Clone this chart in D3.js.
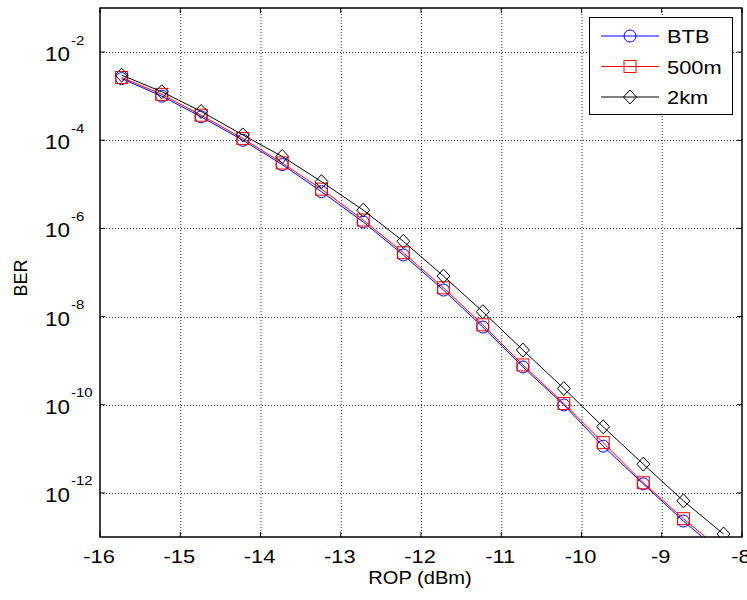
<!DOCTYPE html>
<html>
<head>
<meta charset="utf-8">
<script src="https://cdn.jsdelivr.net/npm/d3@7/dist/d3.min.js"></script>
<style>
  body { margin: 0; background: #fff; }
  text { font-family: "Liberation Sans", Arial, sans-serif; fill: #000; }
</style>
</head>
<body>
<div id="chart"></div>
<script>
// values
const rop = [-15.73, -15.23, -14.74, -14.22, -13.73, -13.24, -12.72, -12.22,
             -11.72, -11.23, -10.73, -10.22, -9.73, -9.23, -8.73, -8.23];
const berBTB = [2.5e-3, 1.0e-3, 3.4e-4, 1.0e-4, 2.8e-5, 6.8e-6, 1.4e-6, 2.5e-7,
                4.0e-8, 5.8e-9, 7.2e-10, 9.9e-11, 1.15e-11, 1.6e-12, 2.3e-13, 3.9e-14];
const ber500m = [2.65e-3, 1.1e-3, 3.7e-4, 1.1e-4, 3.05e-5, 7.8e-6, 1.55e-6, 2.8e-7,
                 4.5e-8, 6.5e-9, 8.0e-10, 1.07e-10, 1.38e-11, 1.7e-12, 2.6e-13, 4.6e-14];
const ber2km = [3.0e-3, 1.26e-3, 4.5e-4, 1.32e-4, 4.3e-5, 1.15e-5, 2.6e-6, 5.1e-7,
                8.3e-8, 1.29e-8, 1.74e-9, 2.34e-10, 3.16e-11, 4.5e-12, 6.6e-13, 1.17e-13];
const seriesNames = ["BTB", "500m", "2km"];
const xTicks = [-16, -15, -14, -13, -12, -11, -10, -9, -8];
const yTickExp = [-2, -4, -6, -8, -10, -12];

const width = 747, height = 600,
  margin = { top: 8, right: 5, bottom: 63, left: 100 },
  sx = 1.15; // text in the picture is stretched sideways

const series = [
  { name: seriesNames[0], values: berBTB, color: "#0000ff", marker: "circle" },
  { name: seriesNames[1], values: ber500m, color: "#ff0000", marker: "square" },
  { name: seriesNames[2], values: ber2km, color: "#000000", marker: "diamond" }
];

const svg = d3.select("#chart").append("svg")
  .attr("width", width).attr("height", height);
svg.append("rect").attr("width", width).attr("height", height).attr("fill", "#fff");

const x = d3.scaleLinear().domain([-16, -8]).range([margin.left, width - margin.right]);
const y = d3.scaleLog().domain([1e-13, 1e-1]).range([height - margin.bottom, margin.top]);
const [x0, x1] = x.range(), [y1, y0] = y.range();

const label = (g, tx, ty, txt, size, anchor) =>
  g.append("text")
    .attr("transform", `translate(${tx},${ty}) scale(${sx},1)`)
    .attr("text-anchor", anchor)
    .attr("font-size", size)
    .text(txt);

// grid
const grid = svg.append("g")
  .attr("stroke", "#333").attr("stroke-width", 1).attr("stroke-dasharray", "1,2");
grid.selectAll(".gx").data(xTicks.slice(1, -1)).enter().append("line")
  .attr("x1", d => x(d) + 0.5).attr("x2", d => x(d) + 0.5)
  .attr("y1", y0).attr("y2", y1);
grid.selectAll(".gy").data(yTickExp).enter().append("line")
  .attr("x1", x0).attr("x2", x1)
  .attr("y1", d => Math.round(y(Math.pow(10, d))) + 0.5)
  .attr("y2", d => Math.round(y(Math.pow(10, d))) + 0.5);

// curves
svg.append("clipPath").attr("id", "clip").append("rect")
  .attr("x", x0).attr("y", y0).attr("width", x1 - x0).attr("height", y1 - y0);
const plot = svg.append("g").attr("clip-path", "url(#clip)");
const line = d3.line().x(d => x(d[0])).y(d => y(d[1]));

const drawMarker = (g, type, cx, cy, color) => {
  if (type === "circle") {
    g.append("circle").attr("cx", cx).attr("cy", cy).attr("r", 6)
      .attr("fill", "none").attr("stroke", color);
  } else if (type === "square") {
    g.append("rect").attr("x", cx - 6).attr("y", cy - 6).attr("width", 12).attr("height", 12)
      .attr("fill", "none").attr("stroke", color);
  } else {
    g.append("path").attr("d", `M${cx},${cy - 7}L${cx + 6.5},${cy}L${cx},${cy + 7}L${cx - 6.5},${cy}Z`)
      .attr("fill", "none").attr("stroke", color);
  }
};

series.forEach(s => {
  const pts = rop.map((r, i) => [r, s.values[i]]);
  plot.append("path").attr("d", line(pts))
    .attr("fill", "none").attr("stroke", s.color).attr("stroke-width", 1);
  const mg = plot.append("g");
  pts.forEach(p => drawMarker(mg, s.marker, x(p[0]), y(p[1]), s.color));
});

// box and inward ticks
const axes = svg.append("g").attr("stroke", "#000").attr("fill", "none");
axes.append("rect").attr("x", x0).attr("y", y0).attr("width", x1 - x0).attr("height", y1 - y0)
  .attr("stroke-width", 1.5);
xTicks.forEach(t => {
  axes.append("line").attr("x1", x(t)).attr("x2", x(t)).attr("y1", y1).attr("y2", y1 - 5);
  axes.append("line").attr("x1", x(t)).attr("x2", x(t)).attr("y1", y0).attr("y2", y0 + 5);
});
yTickExp.forEach(e => {
  const yy = y(Math.pow(10, e));
  axes.append("line").attr("x1", x0).attr("x2", x0 + 5).attr("y1", yy).attr("y2", yy);
  axes.append("line").attr("x1", x1).attr("x2", x1 - 5).attr("y1", yy).attr("y2", yy);
});

// tick labels
const labels = svg.append("g");
xTicks.forEach(t => label(labels, x(t) - 1, 563, String(t), 19, "middle"));
yTickExp.forEach(e => {
  const yy = y(Math.pow(10, e));
  label(labels, 70, yy + 9, "10", 19.5, "end");
  label(labels, 71, yy - 7.5, String(e), 13, "start");
});

// axis titles
label(labels, 420, 584, "ROP (dBm)", 17.5, "middle");
labels.append("text")
  .attr("transform", `translate(27,278) rotate(-90)`)
  .attr("text-anchor", "middle").attr("font-size", 18)
  .text("BER");

// legend
const lg = svg.append("g");
lg.append("rect").attr("x", 589.5).attr("y", 17.5).attr("width", 143).attr("height", 97)
  .attr("fill", "#fff").attr("stroke", "#000").attr("stroke-width", 1);
series.forEach((s, i) => {
  const ly = 36 + i * 30.5;
  lg.append("line").attr("x1", 601).attr("x2", 659).attr("y1", ly).attr("y2", ly)
    .attr("stroke", s.color);
  drawMarker(lg, s.marker, 630, ly, s.color);
  label(lg, 667, ly + 7, s.name, 19, "start");
});
</script>
</body>
</html>
